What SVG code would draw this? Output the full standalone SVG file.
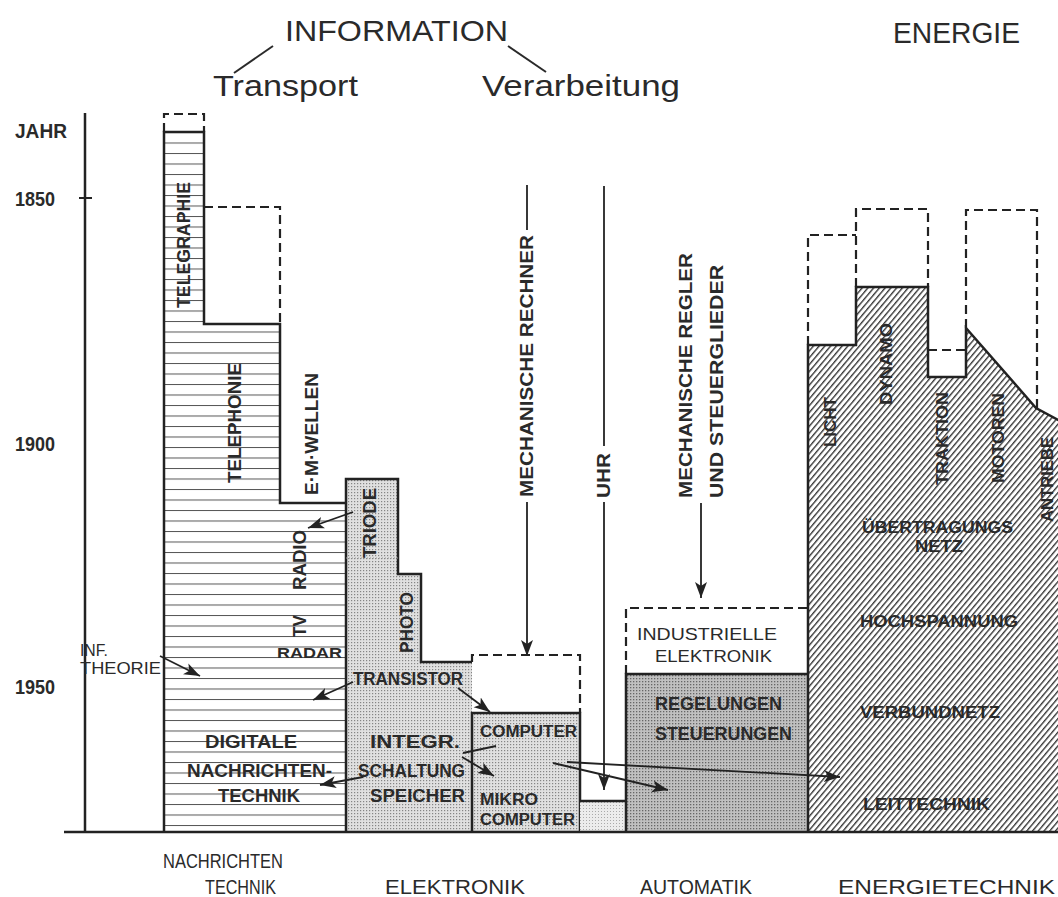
<svg xmlns="http://www.w3.org/2000/svg" width="1058" height="897" viewBox="0 0 1058 897">
<style>
.hd{font-family:"Liberation Sans",Arial,sans-serif;font-size:29px;fill:#2a2a2a;}
.lb{font-family:"Liberation Sans",Arial,sans-serif;font-weight:bold;font-size:18px;fill:#2a2a2a;}
.sm{font-family:"Liberation Sans",Arial,sans-serif;font-weight:bold;font-size:15px;fill:#2a2a2a;}
.en{font-family:"Liberation Sans",Arial,sans-serif;font-weight:bold;font-size:16px;fill:#2a2a2a;}
.ax{font-family:"Liberation Sans",Arial,sans-serif;font-weight:bold;font-size:21px;fill:#2a2a2a;}
.bt{font-family:"Liberation Sans",Arial,sans-serif;font-size:20px;fill:#2a2a2a;}
.ol{fill:none;stroke:#222;stroke-width:2.5;stroke-linejoin:miter;}
.ds{fill:none;stroke:#222;stroke-width:2.2;stroke-dasharray:9 5;}
.ar{fill:none;stroke:#222;stroke-width:1.8;}
</style>
<defs>
<pattern id="hz" patternUnits="userSpaceOnUse" x="0" y="132" width="20" height="10.5">
<rect width="20" height="10.5" fill="#fff"/>
<line x1="0" y1="0.5" x2="20" y2="0.5" stroke="#555" stroke-width="1"/>
</pattern>
<pattern id="dt" patternUnits="userSpaceOnUse" width="3" height="3">
<rect width="3" height="3" fill="#e0e0e0"/>
<rect x="0" y="0" width="1.2" height="1.2" fill="#858585"/>
</pattern>
<pattern id="dk" patternUnits="userSpaceOnUse" width="3" height="3">
<rect width="3" height="3" fill="#c0c0c0"/>
<rect x="0" y="0" width="1.3" height="1.3" fill="#666"/>
</pattern>
<pattern id="lt" patternUnits="userSpaceOnUse" width="3" height="3">
<rect width="3" height="3" fill="#ececec"/>
<rect x="1" y="1" width="1" height="1" fill="#aaa"/>
</pattern>
<pattern id="ht" patternUnits="userSpaceOnUse" width="4.4" height="10" patternTransform="rotate(40)">
<rect width="4.4" height="10" fill="#fff"/>
<line x1="0.7" y1="0" x2="0.7" y2="10" stroke="#2a2a2a" stroke-width="1.3"/>
</pattern>
<marker id="ah" markerUnits="userSpaceOnUse" markerWidth="18" markerHeight="14" refX="16" refY="7" orient="auto">
<path d="M0,1 L16,7 L0,13 L4,7 z" fill="#222"/>
</marker>
</defs>

<g id="header">
<text class="hd" x="285" y="41" textLength="223" lengthAdjust="spacingAndGlyphs">INFORMATION</text>
<line x1="273" y1="46" x2="234" y2="73" stroke="#2a2a2a" stroke-width="2"/>
<line x1="508" y1="46" x2="546" y2="72" stroke="#2a2a2a" stroke-width="2"/>
<text class="hd" x="213" y="96" textLength="145" lengthAdjust="spacingAndGlyphs">Transport</text>
<text class="hd" x="482" y="96" textLength="198" lengthAdjust="spacingAndGlyphs">Verarbeitung</text>
<text class="hd" x="893" y="43" textLength="127" lengthAdjust="spacingAndGlyphs">ENERGIE</text>
</g>

<g id="axis">
<line x1="85" y1="113" x2="85" y2="832" stroke="#222" stroke-width="2.5"/>
<line x1="79" y1="198" x2="92" y2="198" stroke="#222" stroke-width="2"/>
<text class="ax" x="15" y="138" textLength="52" lengthAdjust="spacingAndGlyphs">JAHR</text>
<text class="ax" x="15" y="206" textLength="40" lengthAdjust="spacingAndGlyphs">1850</text>
<text class="ax" x="15" y="451" textLength="40" lengthAdjust="spacingAndGlyphs">1900</text>
<text class="ax" x="15" y="694" textLength="40" lengthAdjust="spacingAndGlyphs">1950</text>
</g>

<g id="nachrichtentechnik">
<path d="M164,832 V132 H204 V324 H280 V503 H346 V832 Z" fill="url(#hz)"/>
<path class="ol" d="M164,832 V132 H204 V324 H280 V503 H346"/>
<path class="ds" d="M164,132 V114 H204 V132"/>
<path class="ds" d="M204,207 H280 V324"/>
<text class="lb" transform="translate(190,308) rotate(-90)" textLength="126" lengthAdjust="spacingAndGlyphs">TELEGRAPHIE</text>
<text class="lb" transform="translate(241,483) rotate(-90)" textLength="120" lengthAdjust="spacingAndGlyphs">TELEPHONIE</text>
<text class="lb" transform="translate(318,495) rotate(-90)" textLength="122" lengthAdjust="spacingAndGlyphs">E·M·WELLEN</text>
<text class="lb" transform="translate(306,590) rotate(-90)" textLength="60" lengthAdjust="spacingAndGlyphs">RADIO</text>
<text class="lb" transform="translate(306,637) rotate(-90)" textLength="22" lengthAdjust="spacingAndGlyphs">TV</text>
<text class="sm" x="277" y="658" textLength="65" lengthAdjust="spacingAndGlyphs">RADAR</text>
<text class="sm" x="80" y="656" textLength="28" lengthAdjust="spacingAndGlyphs" style="font-weight:normal;font-size:16px">INF.</text>
<text class="sm" x="80" y="674" textLength="81" lengthAdjust="spacingAndGlyphs" style="font-weight:normal;font-size:16px">THEORIE</text>
<text class="lb" x="205" y="748" textLength="92" lengthAdjust="spacingAndGlyphs">DIGITALE</text>
<text class="lb" x="187" y="777" textLength="145" lengthAdjust="spacingAndGlyphs">NACHRICHTEN-</text>
<text class="lb" x="218" y="802" textLength="82" lengthAdjust="spacingAndGlyphs">TECHNIK</text>
</g>

<g id="elektronik">
<path d="M346,832 V479 H398 V574 H421 V662 H472 V832 Z" fill="url(#dt)"/>
<path class="ol" d="M346,832 V479 H398 V574 H421 V662 H472"/>
<line x1="346" y1="558" x2="398" y2="558" stroke="#999" stroke-width="1" stroke-dasharray="1 2"/>
<text class="lb" transform="translate(376,558) rotate(-90)" textLength="70" lengthAdjust="spacingAndGlyphs">TRIODE</text>
<text class="lb" transform="translate(413,653) rotate(-90)" textLength="61" lengthAdjust="spacingAndGlyphs">PHOTO</text>
<text class="lb" x="353" y="685" textLength="110" lengthAdjust="spacingAndGlyphs">TRANSISTOR</text>
<text class="lb" x="370" y="748" textLength="90" lengthAdjust="spacingAndGlyphs">INTEGR.</text>
<text class="lb" x="358" y="777" textLength="107" lengthAdjust="spacingAndGlyphs">SCHALTUNG</text>
<text class="lb" x="370" y="802" textLength="95" lengthAdjust="spacingAndGlyphs">SPEICHER</text>
</g>

<g id="computer">
<rect x="472" y="713" width="108" height="119" fill="url(#dt)"/>
<path class="ol" d="M472,832 V713 H580 V832"/>
<path class="ds" d="M472,662 V655 H580 V713"/>
<text class="sm" x="480" y="737" textLength="97" lengthAdjust="spacingAndGlyphs" style="font-size:16px">COMPUTER</text>
<text class="sm" x="480" y="805" textLength="58" lengthAdjust="spacingAndGlyphs" style="font-size:16px">MIKRO</text>
<text class="sm" x="480" y="825" textLength="95" lengthAdjust="spacingAndGlyphs" style="font-size:16px">COMPUTER</text>
</g>

<g id="uhr">
<rect x="580" y="801" width="46" height="31" fill="url(#lt)"/>
<path class="ol" d="M580,801 H626"/>
<line x1="604" y1="186" x2="604" y2="446" class="ar"/>
<text class="lb" transform="translate(610,498) rotate(-90)" textLength="45" lengthAdjust="spacingAndGlyphs">UHR</text>
</g>

<g id="mech-rechner">
<line x1="527" y1="185" x2="527" y2="230" class="ar"/>
<text class="lb" transform="translate(533,497) rotate(-90)" textLength="262" lengthAdjust="spacingAndGlyphs">MECHANISCHE  RECHNER</text>
</g>

<g id="automatik">
<rect x="626" y="674" width="182" height="158" fill="url(#dk)"/>
<path class="ol" d="M626,832 V674 H808"/>
<path class="ds" d="M626,674 V608 H808"/>
<text class="lb" transform="translate(692,498) rotate(-90)" textLength="245" lengthAdjust="spacingAndGlyphs">MECHANISCHE  REGLER</text>
<text class="lb" transform="translate(723,498) rotate(-90)" textLength="233" lengthAdjust="spacingAndGlyphs">UND  STEUERGLIEDER</text>
<text class="sm" x="637" y="640" textLength="140" lengthAdjust="spacingAndGlyphs" style="font-weight:normal;font-size:17px">INDUSTRIELLE</text>
<text class="sm" x="655" y="662" textLength="117" lengthAdjust="spacingAndGlyphs" style="font-weight:normal;font-size:17px">ELEKTRONIK</text>
<text class="lb" x="655" y="710" textLength="127" lengthAdjust="spacingAndGlyphs">REGELUNGEN</text>
<text class="lb" x="655" y="740" textLength="137" lengthAdjust="spacingAndGlyphs">STEUERUNGEN</text>
</g>

<g id="energietechnik">
<path d="M808,832 V345 H856 V287 H928 V377 H966 V328 L1036,408 L1058,420 V832 Z" fill="url(#ht)"/>
<path class="ol" d="M808,832 V345 H856 V287 H928 V377 H966 V328 L1036,408 L1060,421"/>
<path class="ds" d="M808,345 V235 H856"/>
<path class="ds" d="M856,287 V209 H928 V287"/>
<path class="ds" d="M928,350 H966"/>
<path class="ds" d="M966,328 V210 H1037 V408"/>
<text class="en" transform="translate(836,447) rotate(-90)" textLength="50" lengthAdjust="spacingAndGlyphs">LICHT</text>
<text class="en" transform="translate(892,405) rotate(-90)" textLength="82" lengthAdjust="spacingAndGlyphs">DYNAMO</text>
<text class="en" transform="translate(948,485) rotate(-90)" textLength="93" lengthAdjust="spacingAndGlyphs">TRAKTION</text>
<text class="en" transform="translate(1004,483) rotate(-90)" textLength="90" lengthAdjust="spacingAndGlyphs">MOTOREN</text>
<text class="en" transform="translate(1053,522) rotate(-90)" textLength="85" lengthAdjust="spacingAndGlyphs">ANTRIEBE</text>
<text class="en" x="862" y="533" textLength="151" lengthAdjust="spacingAndGlyphs">ÜBERTRAGUNGS</text>
<text class="en" x="915" y="552" textLength="48" lengthAdjust="spacingAndGlyphs">NETZ</text>
<text class="en" x="860" y="627" textLength="158" lengthAdjust="spacingAndGlyphs">HOCHSPANNUNG</text>
<text class="en" x="860" y="718" textLength="140" lengthAdjust="spacingAndGlyphs">VERBUNDNETZ</text>
<text class="en" x="863" y="810" textLength="127" lengthAdjust="spacingAndGlyphs">LEITTECHNIK</text>
</g>

<g id="baseline">
<line x1="64" y1="832" x2="1058" y2="832" stroke="#222" stroke-width="2.5"/>
</g>

<g id="connectors">
<line class="ar" x1="353" y1="512" x2="308" y2="528" marker-end="url(#ah)"/>
<line class="ar" x1="160" y1="656" x2="200" y2="676" marker-end="url(#ah)"/>
<line class="ar" x1="353" y1="682" x2="313" y2="700" marker-end="url(#ah)"/>
<line class="ar" x1="458" y1="688" x2="490" y2="712" marker-end="url(#ah)"/>
<line class="ar" x1="463" y1="753" x2="496" y2="746"/>
<line class="ar" x1="462" y1="757" x2="494" y2="776" marker-end="url(#ah)"/>
<line class="ar" x1="363" y1="777" x2="320" y2="785" marker-end="url(#ah)"/>
<line class="ar" x1="553" y1="763" x2="668" y2="790" marker-end="url(#ah)"/>
<line class="ar" x1="567" y1="762" x2="840" y2="777" marker-end="url(#ah)"/>
<line class="ar" x1="527" y1="502" x2="527" y2="656" marker-end="url(#ah)"/>
<line class="ar" x1="604" y1="502" x2="604" y2="790" marker-end="url(#ah)"/>
<line class="ar" x1="701" y1="503" x2="701" y2="598" marker-end="url(#ah)"/>
</g>

<g id="footer">
<text class="bt" x="163" y="868" textLength="120" lengthAdjust="spacingAndGlyphs">NACHRICHTEN</text>
<text class="bt" x="205" y="894" textLength="71" lengthAdjust="spacingAndGlyphs">TECHNIK</text>
<text class="bt" x="385" y="894" textLength="140" lengthAdjust="spacingAndGlyphs">ELEKTRONIK</text>
<text class="bt" x="640" y="894" textLength="112" lengthAdjust="spacingAndGlyphs">AUTOMATIK</text>
<text class="bt" x="838" y="894" textLength="217" lengthAdjust="spacingAndGlyphs">ENERGIETECHNIK</text>
</g>
</svg>
